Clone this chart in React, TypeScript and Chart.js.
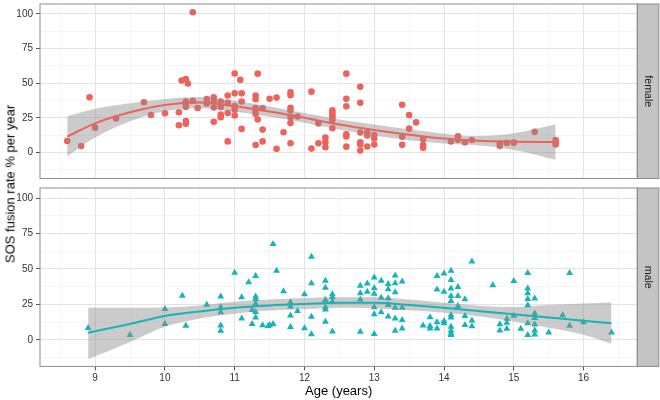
import { useEffect, useRef } from 'react';
import { Chart, registerables } from 'chart.js';

Chart.register(...registerables);

const FONT = "'Liberation Sans', Arial, Helvetica, sans-serif";

// ---- female points ----
const femaleAge = [
  8.6, 8.8, 8.92, 9.0, 9.3, 9.7, 9.8, 10.0, 10.2, 10.2, 10.24, 10.3, 10.33, 10.3, 10.3, 10.3, 10.3, 10.3,
  10.4, 10.4, 10.47, 10.6, 10.6, 10.7, 10.7, 10.7, 10.7, 10.8, 10.8, 10.8, 10.8, 10.9, 10.9, 10.9, 10.9,
  11.0, 11.0, 11.0, 11.0, 11.0, 11.08, 11.1, 11.1, 11.1, 11.3, 11.3, 11.3, 11.3, 11.3, 11.3, 11.33, 11.33,
  11.4, 11.4, 11.4, 11.5, 11.6, 11.6, 11.7, 11.8, 11.8, 11.8, 11.8, 11.8, 11.8, 11.8, 11.9, 12.1, 12.1,
  12.2, 12.2, 12.3, 12.3, 12.3, 12.4, 12.4, 12.4, 12.4, 12.4, 12.4, 12.6, 12.6, 12.6, 12.6, 12.6, 12.6,
  12.8, 12.8, 12.8, 12.8, 12.8, 12.8, 12.9, 12.9, 12.9, 13.0, 13.0, 13.0, 13.4, 13.4, 13.4, 13.5, 13.5,
  13.6, 13.7, 13.7, 13.7, 14.1, 14.2, 14.2, 14.3, 14.4, 14.8, 14.8, 14.9, 15.0, 15.3, 15.6, 15.6, 15.6,
];
const femaleRate = [
  8.3, 4.7, 39.9, 17.9, 24.6, 36.3, 27.1, 28.3, 29.0, 19.6, 52.0, 53.0, 49.8, 36.8, 34.9, 32.8, 22.7, 20.8,
  101.2, 37.3, 32.1, 38.5, 35.4, 39.9, 36.8, 32.5, 22.2, 36.8, 32.8, 27.4, 25.5, 41.1, 35.9, 28.5, 8.0,
  57.0, 42.7, 33.5, 30.8, 26.7, 52.4, 42.7, 36.8, 17.0, 41.1, 38.5, 32.1, 30.2, 27.8, 5.4, 56.9, 23.8,
  32.0, 16.5, 8.0, 38.8, 39.6, 2.6, 14.6, 43.5, 41.3, 32.3, 30.3, 25.5, 21.2, 6.6, 26.0, 43.9, 2.8,
  21.0, 6.6, 10.8, 7.3, 3.8, 30.4, 28.5, 26.9, 25.0, 23.4, 17.5, 56.9, 38.7, 33.3, 13.2, 11.6, 4.2,
  47.4, 35.9, 14.4, 7.3, 5.7, 1.4, 14.4, 12.3, 4.3, 12.5, 10.0, 5.7, 34.5, 11.3, 5.5, 27.1, 17.2,
  21.7, 9.7, 5.4, 3.4, 7.9, 11.7, 9.1, 7.3, 9.0, 6.2, 4.7, 6.9, 7.1, 14.9, 9.0, 7.3, 5.7,
];

// ---- male points ----
const maleAge = [
  8.9, 9.5, 10.0, 10.0, 10.25, 10.3, 10.6, 10.8, 10.8, 10.8, 10.8, 10.8, 11.0, 11.1, 11.1, 11.2, 11.25, 11.25,
  11.3, 11.3, 11.3, 11.3, 11.3, 11.3, 11.4, 11.48, 11.5, 11.55, 11.55, 11.6, 11.7, 11.8, 11.8, 11.8, 11.8,
  11.9, 12.0, 12.0, 12.1, 12.1, 12.1, 12.1, 12.3, 12.3, 12.3, 12.3, 12.3, 12.3, 12.4, 12.4, 12.4, 12.4,
  12.8, 12.8, 12.8, 12.8, 12.9, 12.9, 13.0, 13.0, 13.0, 13.0, 13.0, 13.0, 13.1, 13.1, 13.1,
  13.2, 13.2, 13.2, 13.2, 13.2, 13.3, 13.3, 13.3, 13.3, 13.3, 13.3, 13.4, 13.4, 13.4, 13.4,
  13.7, 13.8, 13.8, 13.8, 13.9, 13.9, 13.9, 13.9, 14.0, 14.0, 14.0, 14.0,
  14.1, 14.1, 14.1, 14.1, 14.1, 14.1, 14.1, 14.1, 14.1, 14.1, 14.1, 14.2, 14.2, 14.2, 14.3, 14.3, 14.3,
  14.4, 14.4, 14.4, 14.7, 14.8, 14.8, 14.9, 14.9, 14.9, 15.0, 15.0, 15.1,
  15.2, 15.2, 15.2, 15.2, 15.2, 15.2, 15.2, 15.3, 15.3, 15.3, 15.3, 15.3, 15.3,
  15.5, 15.7, 15.8, 15.8, 16.0, 16.4,
];
const maleRate = [
  8.3, 3.3, 21.7, 11.2, 31.1, 9.9, 24.8, 30.6, 22.9, 19.4, 10.0, 6.3, 47.4, 30.0, 15.0, 40.6, 21.1, 11.1,
  45.1, 30.6, 28.8, 25.5, 19.6, 15.7, 10.2, 9.8, 10.4, 67.7, 11.1, 48.7, 34.2, 26.5, 23.5, 17.1, 9.0,
  20.3, 32.2, 8.1, 58.7, 39.9, 16.3, 3.9, 41.7, 36.8, 28.1, 23.0, 21.3, 12.7, 32.2, 30.2, 27.0, 5.9,
  38.1, 32.8, 28.4, 5.6, 39.8, 34.0, 44.0, 36.6, 32.5, 22.9, 18.0, 4.0, 41.7, 29.6, 19.5,
  39.4, 35.7, 29.4, 24.5, 16.5, 45.4, 39.9, 33.5, 22.7, 15.1, 6.4, 41.1, 22.7, 13.9, 8.0,
  10.0, 16.0, 9.7, 8.0, 45.1, 35.6, 12.4, 8.0, 46.9, 33.9, 13.2, 11.6,
  48.8, 42.2, 36.3, 30.9, 27.4, 17.5, 15.8, 9.2, 6.4, 4.5, 3.3, 37.2, 30.9, 23.8, 28.6, 16.8, 10.4,
  55.3, 13.7, 9.5, 38.6, 11.0, 6.6, 14.8, 12.0, 7.8, 41.6, 16.9, 7.8,
  47.1, 36.2, 32.8, 28.8, 24.4, 11.6, 3.4, 29.2, 18.6, 15.4, 10.8, 6.6, 3.8,
  5.2, 17.3, 47.2, 9.9, 12.4, 5.2,
];

// ---- loess smooth + confidence band ----
const femaleSmoothAge = [8.6, 9, 9.5, 10, 10.5, 11, 11.5, 12, 12.5, 13, 13.5, 14, 14.5, 15, 15.6];
const femaleSmoothFit = [11.5, 21, 29, 34.3, 36, 33.4, 29.5, 25, 20.2, 16.2, 12.8, 10, 8.4, 7.8, 7.6];
const femaleSmoothLow = [-2.8, 10.8, 22.5, 30, 32, 29.6, 25.8, 21.5, 16.5, 12.2, 8.8, 6.4, 5, 1.8, -5.2];
const femaleSmoothHigh = [26.2, 31.5, 35.5, 38.6, 40, 37.3, 33.2, 28.5, 23.8, 20.2, 16.8, 13.6, 11.8, 13.8, 20.3];

const maleSmoothAge = [8.9, 9.5, 10, 10.5, 11, 11.5, 12, 12.5, 13, 13.5, 14, 14.5, 15, 15.5, 16, 16.4];
const maleSmoothFit = [5.0, 11.2, 16.8, 20, 22.6, 24.2, 25.3, 26.2, 26.2, 24.6, 22.6, 20.3, 18.0, 15.7, 13.4, 11.6];
const maleSmoothLow = [-13.6, -1.5, 9.2, 15, 18.4, 20.6, 21.6, 22.6, 22.2, 20.8, 19.1, 16.6, 12.9, 8.5, 3.6, -2.8];
const maleSmoothHigh = [22.6, 22.6, 22.8, 24.2, 26.8, 28.4, 29.5, 30.0, 30.3, 28.5, 26.2, 24.1, 23.2, 24.5, 25.6, 26.3];

// ---- axes ----
const yTicks = [-12.5, 0, 12.5, 25, 37.5, 50, 62.5, 75, 87.5, 100];
const yLabels = [0, 25, 50, 75, 100];
const xTicks = [8.5, 9, 9.5, 10, 10.5, 11, 11.5, 12, 12.5, 13, 13.5, 14, 14.5, 15, 15.5, 16, 16.5];
const xLabels = [9, 10, 11, 12, 13, 14, 15, 16];
const xMin = 8.21;
const xMax = 16.77;
const yMin = -18.8;
const yMax = 107.2;

const FEMALE_COLOR = '#EF625C';
const MALE_COLOR = '#17B4B7';
const BAND = 'rgba(140,140,140,0.45)';

const zip = (xs: number[], ys: number[]) => xs.map((x, i) => ({ x, y: ys[i] }));
const isIn = (list: number[], v: number) => list.some((t) => Math.abs(t - v) < 1e-9);

const panelDeco = {
  id: 'panelDeco',
  afterDraw(chart: any, _args: any, opts: any) {
    const { ctx, chartArea: a } = chart;
    ctx.save();
    const sw = 21.5;
    ctx.fillStyle = '#c4c4c4';
    ctx.fillRect(a.right, a.top, sw, a.bottom - a.top);
    ctx.strokeStyle = '#8c8c8c';
    ctx.lineWidth = 1;
    ctx.strokeRect(a.right, a.top, sw, a.bottom - a.top);
    ctx.strokeRect(a.left, a.top, a.right - a.left, a.bottom - a.top);
    ctx.translate(a.right + sw / 2, (a.top + a.bottom) / 2);
    ctx.rotate(Math.PI / 2);
    ctx.fillStyle = '#1a1a1a';
    ctx.font = `10.6px ${FONT}`;
    ctx.textAlign = 'center';
    ctx.textBaseline = 'middle';
    ctx.fillText(opts.label, 0, 0);
    ctx.restore();
  },
};

type PanelCfg = {
  label: string;
  ages: number[];
  rates: number[];
  sAge: number[];
  sFit: number[];
  sLow: number[];
  sHigh: number[];
  color: string;
  style: string;
  radius: number;
  showX: boolean;
  padTop: number;
  padBottom: number;
  xHeight: number;
};

function makeChart(canvas: HTMLCanvasElement, c: PanelCfg) {
  const gridColor = (ctx: any, major: number[]) =>
    ctx.tick && isIn(major, ctx.tick.value) ? '#e3e3e3' : '#efefef';
  const gridWidth = (ctx: any, major: number[]) => (ctx.tick && isIn(major, ctx.tick.value) ? 1 : 0.6);
  const tickColor = (ctx: any, major: number[]) =>
    ctx.tick && isIn(major, ctx.tick.value) ? '#555555' : 'rgba(0,0,0,0)';

  return new Chart(canvas, {
    type: 'scatter',
    data: {
      datasets: [
        {
          type: 'line',
          data: zip(c.sAge, c.sFit),
          borderColor: c.color,
          borderWidth: 2,
          pointRadius: 0,
          fill: false,
          cubicInterpolationMode: 'monotone',
          order: 0,
        } as any,
        {
          type: 'line',
          data: zip(c.sAge, c.sLow),
          borderWidth: 0,
          borderColor: 'rgba(0,0,0,0)',
          pointRadius: 0,
          fill: false,
          cubicInterpolationMode: 'monotone',
          order: 1,
        } as any,
        {
          type: 'line',
          data: zip(c.sAge, c.sHigh),
          borderWidth: 0,
          borderColor: 'rgba(0,0,0,0)',
          backgroundColor: BAND,
          pointRadius: 0,
          fill: '-1',
          cubicInterpolationMode: 'monotone',
          order: 1,
        } as any,
        {
          type: 'scatter',
          data: zip(c.ages, c.rates),
          pointStyle: c.style,
          pointRadius: c.radius,
          backgroundColor: c.color,
          borderWidth: 0,
          order: 2,
        } as any,
      ],
    },
    options: {
      animation: false,
      responsive: false,
      maintainAspectRatio: false,
      devicePixelRatio: 1,
      events: [],
      layout: { padding: { left: 0, right: 22.7, top: c.padTop, bottom: c.padBottom } },
      plugins: {
        legend: { display: false },
        tooltip: { enabled: false },
        panelDeco: { label: c.label },
      } as any,
      scales: {
        x: {
          type: 'linear',
          min: xMin,
          max: xMax,
          bounds: 'data',
          afterBuildTicks: (s: any) => {
            s.ticks = xTicks.map((v) => ({ value: v }));
          },
          afterFit: (s: any) => {
            s.height = c.xHeight;
            s.paddingLeft = 0;
            s.paddingRight = 0;
            s.paddingTop = 0;
            s.paddingBottom = 0;
          },
          ticks: {
            display: c.showX,
            autoSkip: false,
            maxRotation: 0,
            padding: 1.5,
            color: '#333333',
            font: { size: 10, family: FONT },
            callback: (v: any) => (isIn(xLabels, Number(v)) ? String(v) : ''),
          },
          grid: {
            color: (ctx: any) => gridColor(ctx, xLabels),
            lineWidth: (ctx: any) => gridWidth(ctx, xLabels),
            drawTicks: c.showX,
            tickLength: 4,
            tickColor: (ctx: any) => tickColor(ctx, xLabels),
          },
          border: { display: false },
          title: {
            display: c.showX,
            text: 'Age (years)',
            color: '#000000',
            font: { size: 13, family: FONT },
            padding: { top: 0, bottom: 1 },
          },
        },
        y: {
          type: 'linear',
          min: yMin,
          max: yMax,
          bounds: 'data',
          afterBuildTicks: (s: any) => {
            s.ticks = yTicks.map((v) => ({ value: v }));
          },
          afterFit: (s: any) => {
            s.width = 40;
            s.paddingTop = 0;
            s.paddingBottom = 0;
            s.paddingLeft = 0;
            s.paddingRight = 0;
          },
          ticks: {
            autoSkip: false,
            padding: 3,
            color: '#333333',
            font: { size: 10, family: FONT },
            callback: (v: any) => (isIn(yLabels, Number(v)) ? String(v) : ''),
          },
          grid: {
            color: (ctx: any) => gridColor(ctx, yLabels),
            lineWidth: (ctx: any) => gridWidth(ctx, yLabels),
            drawTicks: true,
            tickLength: 4,
            tickColor: (ctx: any) => tickColor(ctx, yLabels),
          },
          border: { display: false },
        },
      },
    } as any,
    plugins: [panelDeco],
  });
}

export default function App() {
  const topRef = useRef<HTMLCanvasElement>(null);
  const botRef = useRef<HTMLCanvasElement>(null);

  useEffect(() => {
    Chart.defaults.font.family = FONT;
    const top = makeChart(topRef.current!, {
      label: 'female',
      ages: femaleAge,
      rates: femaleRate,
      sAge: femaleSmoothAge,
      sFit: femaleSmoothFit,
      sLow: femaleSmoothLow,
      sHigh: femaleSmoothHigh,
      color: FEMALE_COLOR,
      style: 'circle',
      radius: 3.3,
      showX: false,
      padTop: 1.1,
      padBottom: 5.5,
      xHeight: 0,
    });
    const bot = makeChart(botRef.current!, {
      label: 'male',
      ages: maleAge,
      rates: maleRate,
      sAge: maleSmoothAge,
      sFit: maleSmoothFit,
      sLow: maleSmoothLow,
      sHigh: maleSmoothHigh,
      color: MALE_COLOR,
      style: 'triangle',
      radius: 4,
      showX: true,
      padTop: 3.8,
      padBottom: 0,
      xHeight: 33.6,
    });
    return () => {
      top.destroy();
      bot.destroy();
    };
  }, []);

  return (
    <div style={{ position: 'fixed', left: 0, top: 0, width: 660, height: 400, background: '#ffffff' }}>
      <canvas
        ref={topRef}
        width={660}
        height={184}
        style={{ position: 'absolute', left: 0, top: 0, width: 660, height: 184 }}
      />
      <canvas
        ref={botRef}
        width={660}
        height={216}
        style={{ position: 'absolute', left: 0, top: 184, width: 660, height: 216 }}
      />
      <div
        style={{
          position: 'absolute',
          left: 10,
          top: 184,
          transform: 'translate(-50%, -50%) rotate(-90deg)',
          whiteSpace: 'nowrap',
          fontFamily: FONT,
          fontSize: 13,
          color: '#000000',
          lineHeight: 1,
        }}
      >
        SOS fusion rate % per year
      </div>
    </div>
  );
}
